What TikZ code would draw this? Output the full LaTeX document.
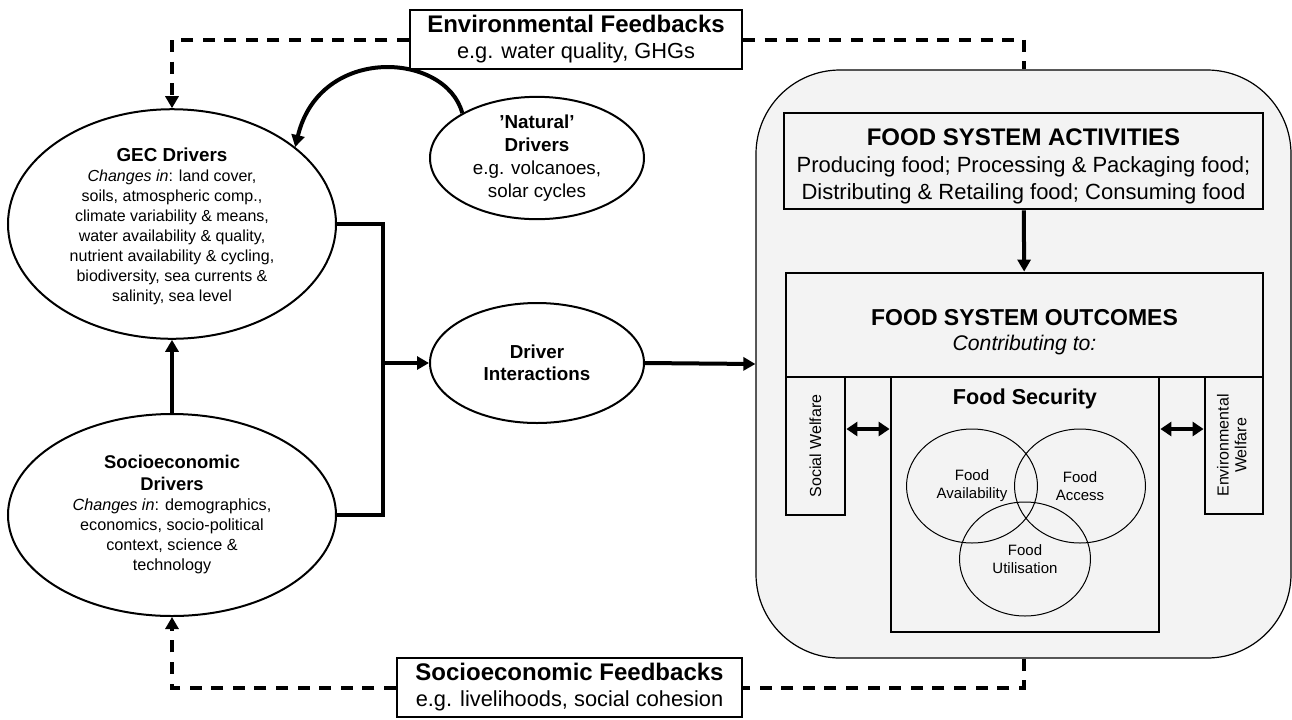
\documentclass[tikz,border=0pt]{standalone}
\usepackage{fontspec}
\usepackage{graphicx}
\setmainfont{Liberation Sans}
\usetikzlibrary{arrows.meta,shapes.geometric}
\definecolor{panel}{HTML}{F3F3F3}
\definecolor{ink}{HTML}{000000}

\begin{document}
\begin{tikzpicture}[
  x=0.5pt, y=-0.5pt, line join=miter, draw=ink, text=ink,
  link/.style={draw=ink, line width=2pt, -{Triangle[length=6pt,width=6.5pt]}},
  bus/.style={draw=ink, line width=2pt},
  fb/.style={draw=ink, line width=2pt, dash pattern=on 6pt off 4.8pt},
  fbarrow/.style={fb, -{Triangle[length=6pt,width=6.5pt]}},
  pair/.style={draw=ink, line width=2pt, {Triangle[length=5.5pt,width=7pt]}-{Triangle[length=5.5pt,width=7pt]}},
  driver/.style={ellipse, draw, line width=1pt, fill=white, inner sep=0pt, align=center},
  fbbox/.style={draw, line width=1pt, fill=white, inner sep=0pt, align=center,
    minimum height=29.5pt, font=\fontsize{10.9}{13}\selectfont},
  fsbox/.style={draw, line width=1.4pt, fill=panel, inner sep=0pt, align=center},
  venn/.style={ellipse, draw, line width=.5pt, inner sep=0pt, align=center,
    minimum width=65.5pt, minimum height=57pt, font=\fontsize{7.5}{9}\selectfont},
]
  \useasboundingbox (0,0) rectangle (1292,719);

  % The food system panel on the right.
  \node[draw, line width=.6pt, fill=panel, rounded corners=42pt,
    minimum width=267.5pt, minimum height=294pt] (fs) at (1023.5,364) {};
  \node[fsbox, minimum width=239.5pt, minimum height=48pt,
    font=\fontsize{11}{13.5}\selectfont] (act) at (1023.5,161)
    {\rule{0pt}{13.6pt}{\fontsize{12}{13.5}\selectfont\bfseries FOOD SYSTEM ACTIVITIES}\\
     Producing food; Processing \& Packaging food;\\
     Distributing \& Retailing food; Consuming food};
  \node[fsbox, minimum width=238.5pt, minimum height=52pt,
    font=\fontsize{10.6}{12.5}\selectfont] (out) at (1024.5,325)
    {\rule{0pt}{15.3pt}{\fontsize{11.5}{13}\selectfont\bfseries FOOD SYSTEM OUTCOMES}\\
     \textit{Contributing to:}};
  \draw[link] (act) -- (out);

  % Outcomes: social welfare, food security, environmental welfare.
  \node[fsbox, minimum width=29.5pt, minimum height=69pt,
    font=\fontsize{8}{8.8}\selectfont] (sw) at (815.5,446)
    {\rotatebox{90}{Social Welfare}};
  \node[fsbox, minimum width=29pt, minimum height=68.5pt,
    font=\fontsize{8}{8.8}\selectfont] (ew) at (1234,445.5)
    {\rotatebox{90}{\begin{tabular}{@{}c@{}}Environmental\\Welfare\end{tabular}}};
  \node[fsbox, minimum width=134pt, minimum height=127.5pt] (fsec) at (1025,504.5) {};
  \node[font=\fontsize{10.8}{12}\selectfont\bfseries] (fsecT) at (1025,399) {Food Security};
  \node[venn] (av) at (972,486) {Food\\Availability};
  \node[venn] (ac) at (1080,486) {Food\\Access};
  \node[venn] (ut) at (1025,559) {Food\\Utilisation};
  \coordinate (lvl) at (0,429);
  \draw[pair] (sw.east |- lvl) -- (fsec.west |- lvl);
  \draw[pair] (fsec.east |- lvl) -- (ew.west |- lvl);

  % Drivers on the left.
  \node[driver, minimum width=164pt, minimum height=101pt,
    font=\fontsize{8}{10}\selectfont] (gec) at (172,224)
    {\rule{0pt}{9.5pt}{\fontsize{9.4}{10}\selectfont\bfseries GEC Drivers}\\
     \textit{Changes in}: land cover,\\
     soils, atmospheric comp.,\\
     climate variability \& means,\\
     water availability \& quality,\\
     nutrient availability \& cycling,\\
     biodiversity, sea currents \&\\
     salinity, sea level};
  \node[driver, minimum width=164pt, minimum height=101pt,
    font=\fontsize{8.1}{10}\selectfont] (se) at (172,515)
    {{\fontsize{9.2}{11}\selectfont\bfseries Socioeconomic}\\[1pt]
     {\fontsize{9.2}{11}\selectfont\bfseries Drivers}\\
     \textit{Changes in}: demographics,\\
     economics, socio-political\\
     context, science \&\\
     technology};
  \node[driver, minimum width=107pt, minimum height=60pt,
    font=\fontsize{9.4}{11.5}\selectfont] (nat) at (537,158)
    {{\fontsize{9.4}{11.5}\selectfont\bfseries 'Natural'}\\
     {\fontsize{9.4}{11.5}\selectfont\bfseries Drivers}\\
     e.g. volcanoes,\\ solar cycles};
  \node[driver, minimum width=107pt, minimum height=60pt,
    font=\fontsize{9.4}{11}\selectfont\bfseries] (drv) at (537,363)
    {Driver\\ Interactions};

  % Drivers feed the interactions, which feed the food system.
  \coordinate (bus) at (383,363);
  \draw[bus] (gec.east) -| (bus) |- (se.east);
  \draw[link] (bus) -- (drv.west);
  \draw[link] (drv.east) -- (fs.west);
  \draw[link] (se.north) -- (gec.south);
  \draw[link] (nat.149) .. controls (446,52) and (320,44) .. (gec.32);

  % Feedback loops, dashed.
  \node[fbbox, minimum width=166pt] (efb) at (576,39.5)
    {{\fontsize{12}{13}\selectfont\bfseries Environmental Feedbacks}\\
     e.g. water quality, GHGs};
  \node[fbbox, minimum width=172.5pt] (sfb) at (569.5,687.5)
    {{\fontsize{12}{13}\selectfont\bfseries Socioeconomic Feedbacks}\\
     e.g. livelihoods, social cohesion};
  \draw[fbarrow] (efb.west) -| (gec.north);
  \draw[fb] (efb.east) -| (fs.north);
  \draw[fb] (fs.south) |- (sfb.east);
  \draw[fbarrow] (sfb.west) -| (se.south);
\end{tikzpicture}
\end{document}
